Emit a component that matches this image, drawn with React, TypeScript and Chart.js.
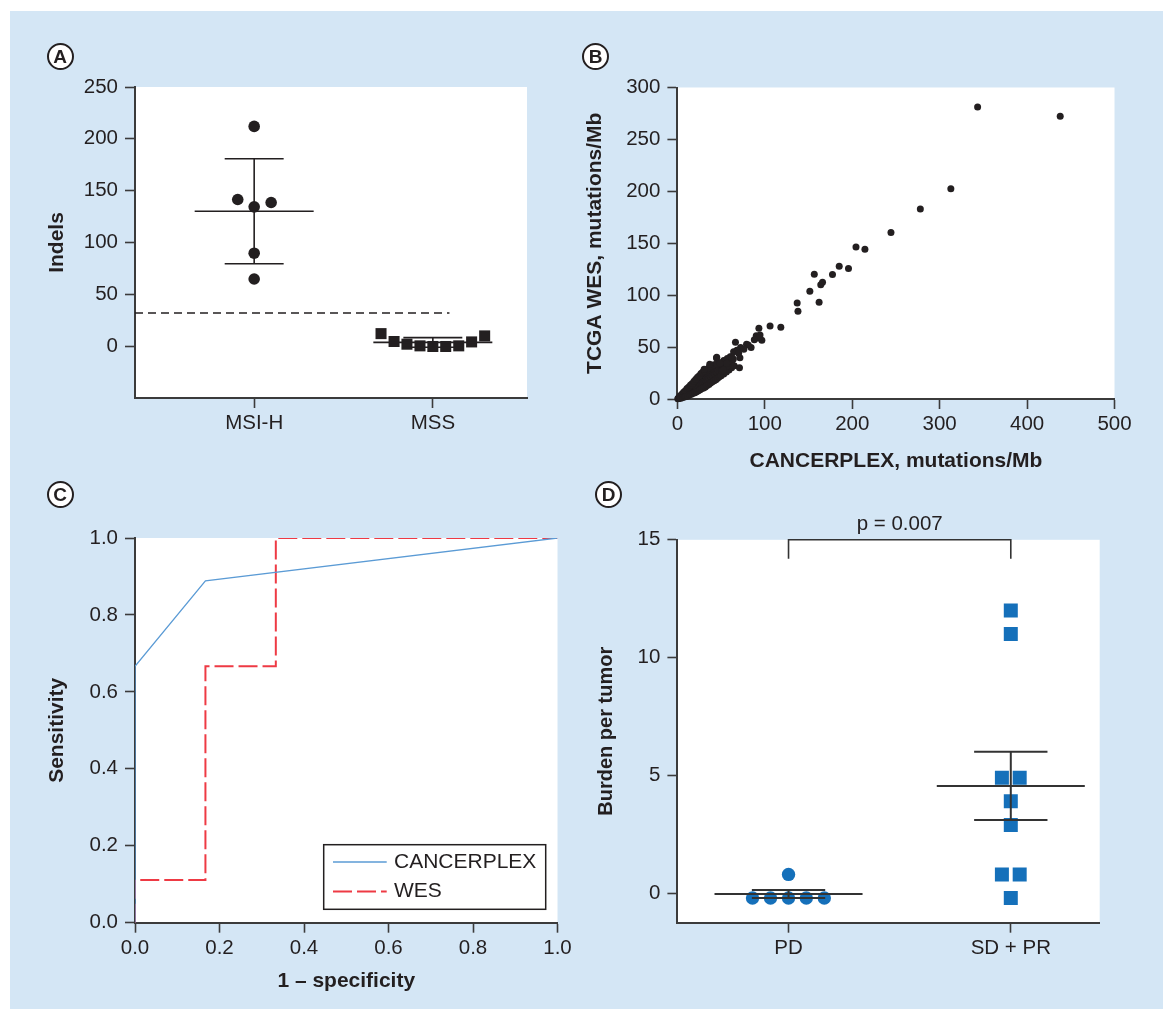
import React, { useEffect, useRef } from "react";
import { Chart, registerables } from "chart.js";

Chart.register(...registerables);

const FONT = "'Liberation Sans', Arial, Helvetica, sans-serif";
const TEXT = "#231f20";
const AXIS = "#3b3b3b";
const BG_BLUE = "#d4e6f5";
const MARK_BLUE = "#1570ba";
const ROC_BLUE = "#5b9bd5";
const ROC_RED = "#ee3a44";

// ---------- Panel A: indels by MSI status ----------
const aCategories = ["MSI-H", "MSS"];
const aMsiValues = [212, 141.5, 138.6, 134.4, 89.7, 64.8];
const aMsiJitter = [0, -0.092, 0.095, 0, 0, 0];
const aMssValues = [12.1, 4.5, 1.9, 0.3, -0.3, -0.3, 0.3, 4.1, 9.9];
const aMssJitter = [-0.29, -0.217, -0.145, -0.072, 0, 0.072, 0.145, 0.217, 0.29];
const aThreshold = 32;
const aThresholdEnd = 2.093;
const aYTicks = [0, 50, 100, 150, 200, 250];

// ---------- Panel B: CANCERPLEX vs TCGA WES ----------
const bX = [
  0.5, 1, 1.5, 2, 2.5, 3, 3.2, 3.8, 4, 4.5,
  5, 5.2, 5.8, 6, 6.3, 6.8, 7, 7.4, 7.9, 8.2,
  8.5, 9, 9.3, 9.8, 10, 10.4, 10.9, 11.2, 11.6, 12,
  12.4, 12.8, 13.1, 13.5, 14, 14.3, 14.8, 15.2, 15.6, 16,
  16.4, 16.9, 17.3, 17.7, 18.1, 18.6, 19, 19.4, 19.9, 20.3,
  20.8, 21.2, 21.7, 22.1, 22.6, 23, 23.5, 24, 24.4, 24.9,
  25.4, 25.9, 26.3, 26.8, 27.3, 27.8, 28.3, 28.8, 29.3, 29.8,
  30.3, 30.9, 31.4, 32, 32.6, 33.2, 33.8, 34.4, 35, 35.6,
  36.3, 37, 37.7, 38.4, 39.1, 39.8, 40.6, 41.4, 42.2, 43,
  43.8, 44.7, 45.6, 46.5, 47.4, 48.4, 49.4, 50.4, 51.5, 52.6,
  53.7, 55, 56.5, 58, 60, 62, 64,
  3, 5, 7, 9, 11, 13, 15, 17, 19, 21,
  23, 25, 27, 29, 31, 33, 36, 39, 42, 45,
  49, 53, 57,
  4, 6, 8, 10, 12, 14, 16, 18, 20, 22,
  24, 26, 28, 30, 32, 34, 36, 38, 40, 42,
  44, 46, 48, 50, 53, 56, 59, 62, 65,
  30.6, 37, 44.7, 51, 57.4, 60.4, 64.3, 66.4, 71, 71.5,
  72.3, 79.1, 84.3, 90.2, 96.6, 93.2, 94.5, 106, 118.3, 137,
  137.9, 151.5, 162.1, 156.6, 164, 166, 177.4, 185.1, 195.7, 204.3,
  214.5, 244.3, 277.9, 312.8, 343.4, 437.9, 81, 62, 56.4, 48.7,
  45, 52.5, 92.3, 68, 70, 76, 88,
];
const bY = [
  0.3, 0.8, 0.5, 1.5, 1, 2.2, 1.4, 2.8, 1.9, 3.2,
  2.4, 3.9, 3, 4.6, 2.8, 4.1, 5.3, 3.5, 5, 6.2,
  4.2, 5.6, 7, 4.8, 6.3, 7.8, 5.5, 7, 8.6, 6.1,
  7.9, 9.2, 6.8, 8.4, 10, 7.4, 9.1, 11, 8, 9.8,
  11.7, 8.8, 10.6, 12.5, 9.6, 11.4, 13.4, 10.2, 12.2, 14.3,
  11, 13, 15.2, 11.8, 13.8, 16, 12.6, 14.6, 17, 13.3,
  15.5, 18, 14, 16.4, 19, 15, 17.3, 20, 15.8, 18.2,
  21, 16.8, 19.3, 22.2, 17.8, 20.4, 23.3, 18.9, 21.6, 24.5,
  20, 22.8, 25.8, 21.2, 24, 27, 22.5, 25.2, 28.3, 23.8,
  26.5, 29.6, 25, 28, 31, 26.5, 29.4, 32.5, 28, 31,
  34, 30.5, 33, 35.5, 32.5, 36, 38.5,
  3, 4.5, 6.5, 8, 10, 11.5, 13.5, 15, 17, 19,
  21, 22.5, 24.5, 26, 27, 28.5, 30, 31.5, 33, 34,
  35, 37, 39,
  0.8, 1.5, 2, 2.5, 3, 4, 4.5, 5.5, 6, 7,
  8, 9, 10, 10.5, 11.5, 13, 14, 15.5, 16.5, 17.5,
  18.5, 20, 21.5, 22.5, 24, 26, 28, 30, 32,
  28.6, 33.4, 39.5, 27.3, 31.8, 40.8, 45.6, 54.6, 30.2, 39.8,
  49.5, 52.7, 49.5, 61, 56.5, 68.1, 61.7, 70.3, 69.1, 92.5,
  84.5, 103.8, 93.2, 120.1, 110, 112.5, 119.8, 127.9, 125.6, 146.5,
  144.2, 160.3, 183.1, 202.4, 281.1, 272.4, 52, 40.8, 34.4, 34.4,
  40.2, 28, 58.8, 47, 44, 48, 57,
];
const bXTicks = [0, 100, 200, 300, 400, 500];
const bYTicks = [0, 50, 100, 150, 200, 250, 300];

// ---------- Panel C: ROC curves ----------
const cCancerplexX = [0, 0, 0.1667, 1];
const cCancerplexY = [0, 0.6667, 0.8889, 1];
const cWesX = [0, 0, 0.1667, 0.1667, 0.3333, 0.3333, 1];
const cWesY = [0, 0.1111, 0.1111, 0.6667, 0.6667, 1, 1];
const cTicks = [0, 0.2, 0.4, 0.6, 0.8, 1];

// ---------- Panel D: burden per tumor ----------
const dCategories = ["PD", "SD + PR"];
const dPdValues = [0.8, -0.2, -0.2, -0.2, -0.2, -0.2];
const dPdJitter = [0, -0.162, -0.081, 0, 0.08, 0.161];
const dSdValues = [12, 11, 4.9, 4.9, 3.9, 2.9, 0.8, 0.8, -0.2];
const dSdJitter = [0, 0, -0.04, 0.04, 0, 0, -0.04, 0.04, 0];
const dYTicks = [0, 5, 10, 15];
const dPText = "p = 0.007";
const dBracketTop = 15;
const dBracketDrop = 14.2;

// ---------- helpers ----------
const mean = (a: number[]) => a.reduce((s, v) => s + v, 0) / a.length;
const sd = (a: number[]) => {
  const m = mean(a);
  return Math.sqrt(a.reduce((s, v) => s + (v - m) * (v - m), 0) / (a.length - 1));
};
const sem = (a: number[]) => sd(a) / Math.sqrt(a.length);

const whiteArea = {
  id: "whiteArea",
  beforeDraw(chart: any) {
    const { ctx, chartArea } = chart;
    ctx.save();
    ctx.fillStyle = "#ffffff";
    ctx.fillRect(chartArea.left, chartArea.top, chartArea.right - chartArea.left, chartArea.bottom - chartArea.top);
    ctx.restore();
  },
};

function seg(x1: number, y1: number, x2: number, y2: number, color: string, width: number, extra: any = {}) {
  return {
    data: [{ x: x1, y: y1 }, { x: x2, y: y2 }],
    showLine: true,
    borderColor: color,
    backgroundColor: color,
    borderWidth: width,
    pointRadius: 0,
    tension: 0,
    ...extra,
  };
}

function errorBars(cx: number, m: number, e: number, color: string, width: number) {
  return [
    seg(cx - 0.333, m, cx + 0.333, m, color, width),
    seg(cx, m - e, cx, m + e, color, width),
    seg(cx - 0.165, m + e, cx + 0.165, m + e, color, width),
    seg(cx - 0.165, m - e, cx + 0.165, m - e, color, width),
  ];
}

function axis(
  min: number,
  max: number,
  tickValues: number[],
  fmt: (v: number) => string,
  fixed: { width?: number; height?: number },
  tickPad: number,
  title?: { text: string; size: number; pad: any }
) {
  return {
    type: "linear",
    min,
    max,
    afterBuildTicks: (s: any) => {
      s.ticks = tickValues.map((v) => ({ value: v }));
    },
    afterFit: (s: any) => {
      if (fixed.width !== undefined) s.width = fixed.width;
      if (fixed.height !== undefined) s.height = fixed.height;
    },
    grid: {
      display: true,
      drawOnChartArea: false,
      drawTicks: true,
      tickLength: 10,
      tickWidth: 1.6,
      color: AXIS,
      tickColor: AXIS,
    },
    border: { display: true, color: AXIS, width: 2 },
    ticks: {
      autoSkip: false,
      maxRotation: 0,
      minRotation: 0,
      color: TEXT,
      padding: tickPad,
      font: { family: FONT, size: 20.5 },
      callback: (v: number) => fmt(v),
    },
    title: title
      ? {
          display: true,
          text: title.text,
          color: TEXT,
          font: { family: FONT, size: title.size, weight: "bold" },
          padding: title.pad,
        }
      : { display: false },
  };
}

function baseOptions(padding: any, scales: any) {
  return {
    responsive: false,
    maintainAspectRatio: false,
    animation: false,
    devicePixelRatio: 1,
    events: [],
    layout: { padding },
    plugins: {
      legend: { display: false },
      tooltip: { enabled: false },
      colors: { enabled: false },
    },
    scales,
  };
}

// ---------- chart configs ----------
function configA(): any {
  const msi = errorBars(1, mean(aMsiValues), sd(aMsiValues), TEXT, 1.6);
  const mss = errorBars(2, mean(aMssValues), sd(aMssValues), TEXT, 1.6);
  const xMin = 0.333;
  return {
    type: "scatter",
    data: {
      datasets: [
        ...msi,
        ...mss,
        seg(xMin, aThreshold, aThresholdEnd, aThreshold, TEXT, 1.4, { borderDash: [8, 5] }),
        {
          data: aMsiValues.map((v, i) => ({ x: 1 + aMsiJitter[i], y: v })),
          pointStyle: "circle",
          pointRadius: 5.8,
          backgroundColor: TEXT,
          borderWidth: 0,
        },
        {
          data: aMssValues.map((v, i) => ({ x: 2 + aMssJitter[i], y: v })),
          pointStyle: "rect",
          pointRadius: 7.8,
          backgroundColor: TEXT,
          borderWidth: 0,
        },
      ],
    },
    options: baseOptions(
      { left: 0, top: 76, right: 53, bottom: 12 },
      {
        x: axis(xMin, 2.527, [1, 2], (v) => aCategories[v - 1] ?? "", { height: 60 }, 3),
        y: axis(-50, 250, aYTicks, (v) => String(v), { width: 125 }, 7, {
          text: "Indels",
          size: 21,
          pad: { top: 34.4, bottom: 0 },
        }),
      }
    ),
    plugins: [whiteArea],
  };
}

function configB(): any {
  return {
    type: "scatter",
    data: {
      datasets: [
        {
          data: bX.map((x, i) => ({ x, y: bY[i] })),
          pointStyle: "circle",
          pointRadius: 3.5,
          backgroundColor: TEXT,
          borderWidth: 0,
          clip: false,
        },
      ],
    },
    options: baseOptions(
      { left: 0, top: 76.5, right: 48.5, bottom: 0 },
      {
        x: axis(0, 500, bXTicks, (v) => String(v), { height: 71 }, 3, {
          text: "CANCERPLEX, mutations/Mb",
          size: 21,
          pad: { top: 0, bottom: -3.6 },
        }),
        y: axis(0, 300, bYTicks, (v) => String(v), { width: 97.4 }, 7, {
          text: "TCGA WES, mutations/Mb",
          size: 21,
          pad: { top: 2.4, bottom: 0 },
        }),
      }
    ),
    plugins: [whiteArea],
  };
}

const rocLegend = {
  id: "rocLegend",
  afterDraw(chart: any) {
    const { ctx, chartArea } = chart;
    const w = 222;
    const h = 64.6;
    const right = chartArea.right - 11.8;
    const bottom = chartArea.bottom - 13.4;
    const left = right - w;
    const top = bottom - h;
    ctx.save();
    ctx.fillStyle = "#ffffff";
    ctx.fillRect(left, top, w, h);
    ctx.strokeStyle = TEXT;
    ctx.lineWidth = 1.5;
    ctx.strokeRect(left, top, w, h);
    chart.data.datasets.forEach((ds: any, i: number) => {
      if (!ds.label) return;
      const yy = top + 17.3 + i * 29.5;
      ctx.strokeStyle = ds.borderColor;
      ctx.lineWidth = ds.borderWidth;
      ctx.setLineDash(ds.borderDash || []);
      ctx.beginPath();
      ctx.moveTo(left + 9.3, yy);
      ctx.lineTo(left + 63, yy);
      ctx.stroke();
      ctx.setLineDash([]);
      ctx.fillStyle = TEXT;
      ctx.font = `21px ${FONT}`;
      ctx.textAlign = "left";
      ctx.textBaseline = "middle";
      ctx.fillText(ds.label, left + 70.3, yy);
    });
    ctx.restore();
  },
};

function configC(): any {
  return {
    type: "scatter",
    data: {
      datasets: [
        {
          label: "CANCERPLEX",
          data: cCancerplexX.map((x, i) => ({ x, y: cCancerplexY[i] })),
          showLine: true,
          borderColor: ROC_BLUE,
          backgroundColor: ROC_BLUE,
          borderWidth: 1.3,
          pointRadius: 0,
          tension: 0,
        },
        {
          label: "WES",
          data: cWesX.map((x, i) => ({ x, y: cWesY[i] })),
          showLine: true,
          borderColor: ROC_RED,
          backgroundColor: ROC_RED,
          borderWidth: 2,
          borderDash: [19, 5],
          pointRadius: 0,
          tension: 0,
        },
      ],
    },
    options: baseOptions(
      { left: 0, top: 68, right: 22.5, bottom: 0 },
      {
        x: axis(0, 1, cTicks, (v) => v.toFixed(1), { height: 86.3 }, 3, {
          text: "1 \u2013 specificity",
          size: 21,
          pad: { top: 0, bottom: 15.4 },
        }),
        y: axis(0, 1, cTicks, (v) => v.toFixed(1), { width: 125 }, 7, {
          text: "Sensitivity",
          size: 21,
          pad: { top: 34.4, bottom: 0 },
        }),
      }
    ),
    plugins: [whiteArea, rocLegend],
  };
}

const pLabel = {
  id: "pLabel",
  afterDraw(chart: any) {
    const { ctx, scales } = chart;
    const px = scales.x.getPixelForValue(1.5);
    const py = scales.y.getPixelForValue(dBracketTop) - 15.5;
    ctx.save();
    ctx.fillStyle = TEXT;
    ctx.font = `20.5px ${FONT}`;
    ctx.textAlign = "center";
    ctx.textBaseline = "middle";
    ctx.fillText(dPText, px, py);
    ctx.restore();
  },
};

function configD(): any {
  const LINE = "#333333";
  return {
    type: "scatter",
    data: {
      datasets: [
        ...errorBars(1, mean(dPdValues), sem(dPdValues), LINE, 2),
        ...errorBars(2, mean(dSdValues), sem(dSdValues), LINE, 2),
        {
          data: [
            { x: 1, y: dBracketDrop },
            { x: 1, y: dBracketTop },
            { x: 2, y: dBracketTop },
            { x: 2, y: dBracketDrop },
          ],
          showLine: true,
          borderColor: LINE,
          borderWidth: 1.6,
          pointRadius: 0,
          tension: 0,
          clip: false,
        },
        {
          data: dPdValues.map((v, i) => ({ x: 1 + dPdJitter[i], y: v })),
          pointStyle: "circle",
          pointRadius: 6.7,
          backgroundColor: MARK_BLUE,
          borderWidth: 0,
        },
        {
          data: dSdValues.map((v, i) => ({ x: 2 + dSdJitter[i], y: v })),
          pointStyle: "rect",
          pointRadius: 9.9,
          backgroundColor: MARK_BLUE,
          borderWidth: 0,
        },
      ],
    },
    options: baseOptions(
      { left: 0, top: 69.8, right: 63.3, bottom: 0 },
      {
        x: axis(0.5, 2.4, [1, 2], (v) => dCategories[v - 1] ?? "", { height: 86.3 }, 3),
        y: axis(-1.25, 15, dYTicks, (v) => String(v), { width: 97.4 }, 7, {
          text: "Burden per tumor",
          size: 20,
          pad: { top: 14, bottom: 0 },
        }),
      }
    ),
    plugins: [whiteArea, pLabel],
  };
}

function ChartCanvas(props: { left: number; top: number; width: number; height: number; make: () => any }) {
  const ref = useRef<HTMLCanvasElement | null>(null);
  useEffect(() => {
    if (!ref.current) return;
    const chart = new Chart(ref.current, props.make());
    return () => chart.destroy();
  }, []);
  return (
    <canvas
      ref={ref}
      width={props.width}
      height={props.height}
      style={{
        position: "absolute",
        left: props.left,
        top: props.top,
        width: props.width,
        height: props.height,
      }}
    />
  );
}

function Letter(props: { cx: number; cy: number; text: string }) {
  return (
    <div
      style={{
        position: "absolute",
        left: props.cx - 13.5,
        top: props.cy - 13.5,
        width: 27,
        height: 27,
        boxSizing: "border-box",
        border: `2px solid ${TEXT}`,
        borderRadius: "50%",
        background: "#ffffff",
        display: "flex",
        alignItems: "center",
        justifyContent: "center",
        fontFamily: FONT,
        fontWeight: "bold",
        fontSize: 19,
        color: TEXT,
        lineHeight: 1,
      }}
    >
      {props.text}
    </div>
  );
}

export default function App() {
  return (
    <div
      style={{
        position: "absolute",
        left: 0,
        top: 0,
        width: 1163,
        height: 1009,
        background: "#ffffff",
        overflow: "hidden",
      }}
    >
      <div style={{ position: "absolute", left: 10, top: 11, width: 1153, height: 998, background: BG_BLUE }} />
      <ChartCanvas left={10} top={11} width={570} height={459} make={configA} />
      <ChartCanvas left={580} top={11} width={583} height={459} make={configB} />
      <ChartCanvas left={10} top={470} width={570} height={539} make={configC} />
      <ChartCanvas left={580} top={470} width={583} height={539} make={configD} />
      <Letter cx={60} cy={56} text="A" />
      <Letter cx={595.6} cy={56} text="B" />
      <Letter cx={60} cy={494.7} text="C" />
      <Letter cx={608.6} cy={494.7} text="D" />
    </div>
  );
}
